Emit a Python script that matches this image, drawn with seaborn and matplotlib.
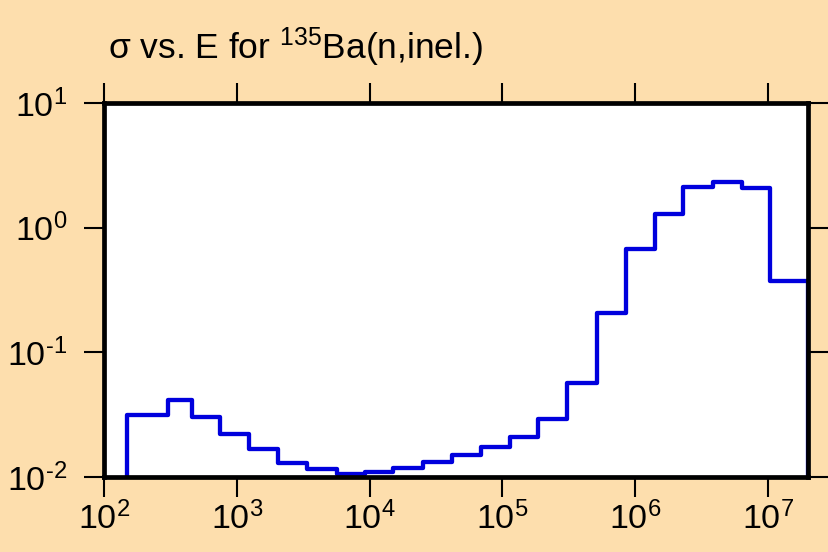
import numpy as np
import matplotlib
matplotlib.use('Agg')
import matplotlib.pyplot as plt
from matplotlib.ticker import FixedFormatter
import seaborn as sns
import pandas as pd

# bin edges (eV) and cross sections (b)
edges = [148, 305, 457, 747, 1242, 2055, 3357, 5650, 9225, 15070, 25100,
         41500, 69000, 114000, 186000, 308000, 513000, 853000, 1.41e6,
         2.30e6, 3.84e6, 6.34e6, 1.035e7, 2.0e7]
sigma = [0.0314, 0.0415, 0.0305, 0.0220, 0.0168, 0.0130, 0.0115, 0.01057,
         0.0109, 0.01175, 0.0133, 0.0150, 0.0173, 0.0210, 0.0292, 0.0571,
         0.2056, 0.670, 1.28, 2.10, 2.34, 2.07, 0.373]
xticks = [1e2, 1e3, 1e4, 1e5, 1e6, 1e7]
xlabels = ['2', '3', '4', '5', '6', '7']
yticks = [1e-2, 1e-1, 1e0, 1e1]
ylabels = ['-2', '-1', '0', '1']

sns.set_style('ticks')
plt.rcParams['font.family'] = ['Liberation Sans', 'DejaVu Sans']
plt.rcParams['mathtext.fontset'] = 'custom'
plt.rcParams['mathtext.rm'] = 'Liberation Sans'
plt.rcParams['mathtext.it'] = 'Liberation Sans:italic'
plt.rcParams['axes.unicode_minus'] = False
for k in ['text.color', 'xtick.color', 'ytick.color', 'xtick.labelcolor', 'ytick.labelcolor']:
    plt.rcParams[k] = 'black'


def pow_label(e):
    if e.startswith('-'):
        return r'10$^{\text{-}' + e[1:] + '}$'
    return '10$^{' + e + '}$'


ymin = 1e-2
xs = [edges[0]] + edges + [edges[-1]]
ys = [ymin] + sigma + [sigma[-1], ymin]
df = pd.DataFrame({'E': xs, 'sigma': ys})

bg = '#fddead'
fig = plt.figure(figsize=(8.29, 5.52), dpi=100, facecolor=bg)
ax = fig.add_axes([0.1255, 0.1359, 0.8492, 0.6775])
ax.set_facecolor('white')

sns.lineplot(data=df, x='E', y='sigma', drawstyle='steps-post', color='#0000dd',
             linewidth=3.1, ax=ax, sort=False, estimator=None)

ax.set_xscale('log')
ax.set_yscale('log')
ax.set_xlim(1e2, 2e7)
ax.set_ylim(1e-2, 1e1)
ax.set_xticks(xticks)
ax.set_yticks(yticks)
ax.minorticks_off()
ax.xaxis.set_major_formatter(FixedFormatter([pow_label(e) for e in xlabels]))
ax.yaxis.set_major_formatter(FixedFormatter([pow_label(e) for e in ylabels]))
ax.set_xlabel('')
ax.set_ylabel('')

for s in ax.spines.values():
    s.set_visible(True)
    s.set_linewidth(3.4)
    s.set_color('black')

ax.tick_params(axis='both', which='major', direction='out', length=14.5, width=1.5,
               labelsize=24.5, top=True, right=True, color='black')
ax.tick_params(axis='x', pad=3)
ax.tick_params(axis='y', pad=12)

fig.text(0.13, 0.893, 'σ vs. E for $^{135}$Ba(n,inel.)', fontsize=25.5, ha='left', va='baseline')

fig.savefig('out.png', dpi=100, facecolor=bg)
